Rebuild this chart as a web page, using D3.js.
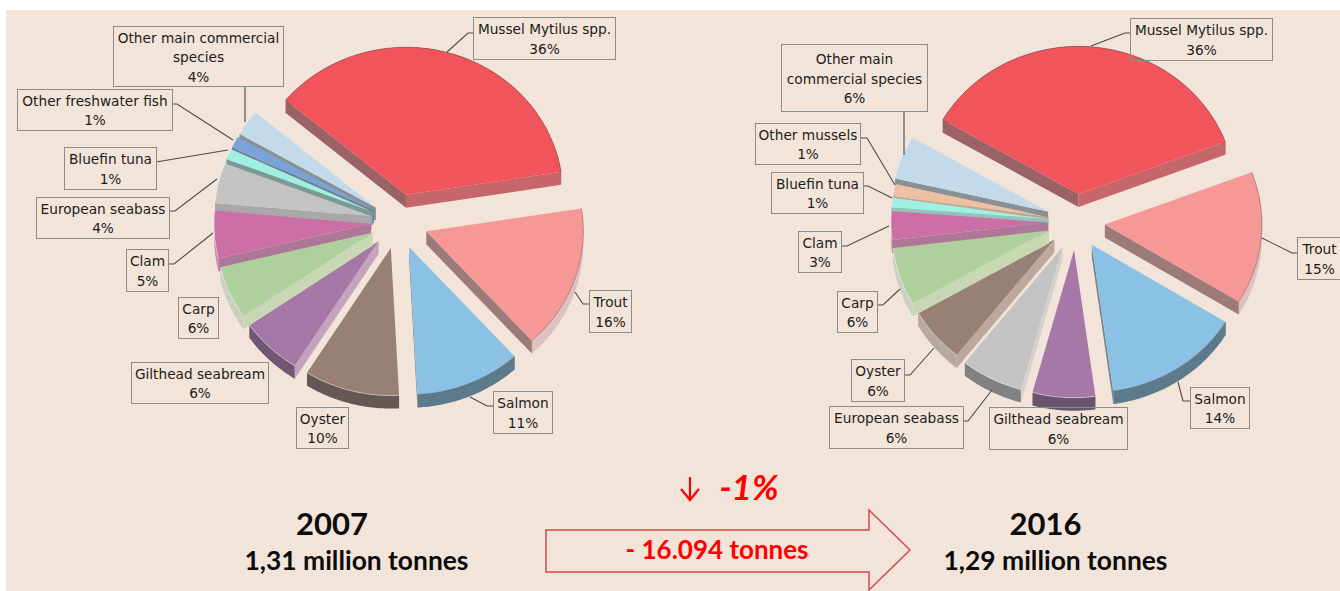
<!DOCTYPE html>
<html>
<head>
<meta charset="utf-8">
<title>Aquaculture production by species, 2007 and 2016</title>
<script src="https://cdnjs.cloudflare.com/ajax/libs/d3/7.8.5/d3.min.js"></script>
<style>
  html, body { margin: 0; padding: 0; background: #fff; overflow: hidden; }
  svg { display: block; }
  .lbl { font-family: "DejaVu Sans", sans-serif; font-size: 13.7px; fill: #1c1c1c; text-anchor: middle; }
  .big { font-family: Lato, sans-serif; font-weight: 700; text-anchor: middle; fill: #0c0c0c; }
</style>
</head>
<body>
<svg width="1340" height="591"></svg>
<script>
const categories2007 = ['Mussel Mytilus spp.', 'Trout', 'Salmon', 'Oyster', 'Gilthead seabream', 'Carp', 'Clam', 'European seabass', 'Bluefin tuna', 'Other freshwater fish', 'Other main commercial species'];
const shares2007 = [36.4, 15.75, 10.9, 9.8, 6.44, 5.83, 5.2, 4.4, 1.17, 1.28, 2.83];
const percents2007 = [36, 16, 11, 10, 6, 6, 5, 4, 1, 1, 4];

const categories2016 = ['Mussel Mytilus spp.', 'Trout', 'Salmon', 'Gilthead seabream', 'European seabass', 'Oyster', 'Carp', 'Clam', 'Bluefin tuna', 'Other mussels', 'Other main commercial species'];
const shares2016 = [35.86, 14.5, 14.08, 6.44, 6.42, 6.06, 6.36, 3.14, 1.06, 1.31, 4.78];
const percents2016 = [36, 15, 14, 6, 6, 6, 6, 3, 1, 1, 6];

const colorNames = ['Mussel Mytilus spp.', 'Trout', 'Salmon', 'Oyster', 'Gilthead seabream', 'Carp', 'Clam', 'European seabass', 'Bluefin tuna', 'Other freshwater fish', 'Other mussels', 'Other main commercial species'];
const colorValues = ['#f2545b', '#f59896', '#8bc1e4', '#998074', '#a678a8', '#aed09c', '#cc6fa6', '#c3c3c3', '#9ff0e2', '#7aa3d8', '#ecc0a0', '#c3daeb'];
const color = d3.scaleOrdinal().domain(colorNames).range(colorValues);

const svg = d3.select('svg');
const bg = '#f2e4d9';
svg.append('rect').attr('x', 6).attr('y', 10).attr('width', 1334).attr('height', 581).attr('fill', bg);

const rx = 157, squash = 0.94, depth = 13;
const toRad = Math.PI / 180;
const lineGen = d3.line();
const arcGen = d3.arc().innerRadius(0).outerRadius(rx);

const onEllipse = a => [rx * Math.sin(a), -squash * rx * Math.cos(a)];

function drawPie(cfg) {
  const pie = d3.pie().sort(null).value(d => d)
    .startAngle(cfg.start * toRad).endAngle(cfg.start * toRad + 2 * Math.PI);
  const arcs = pie(cfg.shares);

  cfg.order.forEach(i => {
    const d = arcs[i];
    const name = cfg.categories[i];
    const base = color(name);
    const mid = (d.startAngle + d.endAngle) / 2;
    const tip = [cfg.cx + cfg.explode[i] * Math.sin(mid), cfg.cy - squash * cfg.explode[i] * Math.cos(mid)];
    const g = svg.append('g').attr('transform', `translate(${tip[0]},${tip[1]})`);

    // outer wall
    const arcPts = d3.range(0, 1.0001, 0.02).map(t => onEllipse(d.startAngle + t * (d.endAngle - d.startAngle)));
    const low = arcPts.slice().reverse().map(p => [p[0], p[1] + depth]);
    g.append('path').attr('d', lineGen(arcPts.concat(low)) + 'Z')
      .attr('fill', d3.interpolateRgb(base, cfg.arcMix[i] > 0 ? '#2e3034' : '#d8d0cc')(Math.abs(cfg.arcMix[i])));

    // cut faces, shaded by which way they look
    [d.startAngle, d.endAngle].forEach((a, k) => {
      const e = onEllipse(a);
      const len = Math.hypot(e[0], e[1]);
      let nx = e[1] / len, ny = -e[0] / len;
      if (k === 1) { nx = -nx; ny = -ny; }
      if (ny <= 0) return;
      let fill;
      if (nx < -0.2) fill = d3.interpolateRgb(base, '#6a6a6a')(0.65);
      else if (nx < 0.4) fill = d3.interpolateRgb(base, '#808080')(0.4);
      else fill = d3.interpolateRgb(base, bg)(0.4);
      g.append('path')
        .attr('d', lineGen([[0, 0], e, [e[0], e[1] + depth], [0, depth]]) + 'Z')
        .attr('fill', fill);
    });

    // top face
    g.append('path')
      .attr('transform', `scale(1,${squash})`)
      .attr('d', arcGen({ startAngle: d.startAngle, endAngle: d.endAngle }))
      .attr('fill', base);

    // thin rim, dark on the right of the pie and light on the left
    const rightSide = Math.sin(mid) > 0;
    g.append('path').attr('d', lineGen(arcPts)).attr('fill', 'none')
      .attr('stroke', rightSide ? '#5a4a4a' : '#ffffff')
      .attr('stroke-opacity', rightSide ? 0.45 : 0.4).attr('stroke-width', 1);
  });

  // leader lines then label boxes
  cfg.leaders.forEach(pts => {
    if (!pts) return;
    svg.append('path').attr('d', lineGen(pts)).attr('fill', 'none')
      .attr('stroke', '#4a4a4a').attr('stroke-width', 1.1);
  });
  cfg.categories.forEach((name, i) => {
    const b = cfg.boxes[i];
    svg.append('rect').attr('x', b[0] + 0.5).attr('y', b[1] + 0.5)
      .attr('width', b[2] - b[0]).attr('height', b[3] - b[1])
      .attr('fill', 'none').attr('stroke', '#8c8c8c').attr('stroke-width', 1);
    const lines = (cfg.wrapped[name] || [name]).concat(cfg.percents[i] + '%');
    const midX = (b[0] + b[2]) / 2 + 0.5;
    const y0 = (b[1] + b[3]) / 2 - (lines.length - 1) * 9.75 + 6;
    const t = svg.append('text').attr('class', 'lbl');
    lines.forEach((s, j) => {
      t.append('tspan').attr('x', midX).attr('y', y0 + j * 19.5).text(s);
    });
  });
}

drawPie({
  categories: categories2007, shares: shares2007, percents: percents2007,
  start: -50, cx: 398, cy: 222,
  order: [0, 1, 2, 3, 4, 10, 9, 8, 7, 6, 5],
  explode: [30, 30, 29, 28.5, 28, 27.5, 27, 27, 27, 27, 27],
  arcMix: [0.4, -0.75, 0.5, 0.5, 0.45, -0.7, -0.3, 0.3, 0.3, 0.3, 0.3],
  wrapped: { 'Other main commercial species': ['Other main commercial', 'species'] },
  boxes: [[473, 17, 615, 59], [589, 290, 631, 332], [493, 391, 552, 433], [296, 407, 348, 448], [131, 362, 268, 403], [178, 297, 218, 338], [126, 249, 168, 291], [36, 197, 169, 238], [64, 147, 156, 189], [17, 89, 172, 130], [113, 26, 283, 86]],
  leaders: [
    [[473, 33], [468, 33], [447, 52]],
    [[589, 304], [583, 304], [575, 292]],
    [[493, 406], [487, 406], [470, 397]],
    null, null, null,
    [[168, 264], [174, 264], [213, 233]],
    [[169, 211], [175, 211], [217, 179]],
    [[156, 162], [228, 150]],
    [[172, 104], [177, 104], [233, 140]],
    [[245, 86], [245, 122]]
  ]
});

drawPie({
  categories: categories2016, shares: shares2016, percents: percents2016,
  start: -59.8, cx: 1076, cy: 222,
  order: [0, 1, 2, 3, 4, 5, 10, 9, 8, 7, 6],
  explode: [30, 29, 29, 30, 30, 28.5, 28.5, 28, 28, 28, 30],
  arcMix: [0.4, -0.75, 0.5, 0.5, 0.45, -0.5, -0.7, -0.3, 0.3, 0.3, 0.3],
  wrapped: { 'Other main commercial species': ['Other main', 'commercial species'] },
  boxes: [[1130, 18, 1272, 60], [1297, 237, 1341, 279], [1190, 387, 1249, 428], [989, 407, 1127, 449], [829, 406, 963, 448], [851, 359, 904, 401], [837, 291, 877, 332], [798, 231, 841, 272], [771, 172, 863, 213], [755, 123, 860, 164], [781, 44, 927, 111]],
  leaders: [
    [[1130, 33], [1125, 33], [1091, 46]],
    [[1297, 253], [1292, 253], [1262, 238]],
    [[1190, 401], [1183, 401], [1178, 382]],
    null,
    [[963, 421], [968, 421], [992, 390]],
    [[904, 375], [910, 375], [934, 348]],
    [[877, 305], [883, 305], [900, 289]],
    [[841, 246], [847, 246], [889, 226]],
    [[863, 186], [868, 186], [892, 198]],
    [[860, 138], [867, 138], [895, 185]],
    [[904, 111], [904, 155]]
  ]
});

// bottom captions
const captions = [
  { x: 332, year: '2007', total: '1,31 million tonnes', tx: 356.5 },
  { x: 1045.5, year: '2016', total: '1,29 million tonnes', tx: 1055.5 }
];
captions.forEach(c => {
  svg.append('text').attr('class', 'big').attr('x', c.x).attr('y', 535).attr('font-size', 31).text(c.year);
  svg.append('text').attr('class', 'big').attr('x', c.tx).attr('y', 570).attr('font-size', 26.4).text(c.total);
});

// change arrow
svg.append('path')
  .attr('d', lineGen([[546, 530], [869, 530], [869, 510], [910, 550], [869, 590], [869, 572], [546, 572]]) + 'Z')
  .attr('fill', 'none').attr('stroke', '#d14a4a').attr('stroke-width', 1.5);
svg.append('text').attr('class', 'big').attr('x', 717).attr('y', 559).attr('font-size', 26)
  .style('fill', '#f00').text('- 16.094 tonnes');

svg.append('path').attr('d', 'M690,477V499M681,489L690,500L699,489')
  .attr('fill', 'none').attr('stroke', '#f00').attr('stroke-width', 2.2);
svg.append('text').attr('class', 'big').attr('x', 749).attr('y', 500).attr('font-size', 35)
  .style('fill', '#f00').style('font-style', 'italic').text('-1%');
</script>
</body>
</html>
